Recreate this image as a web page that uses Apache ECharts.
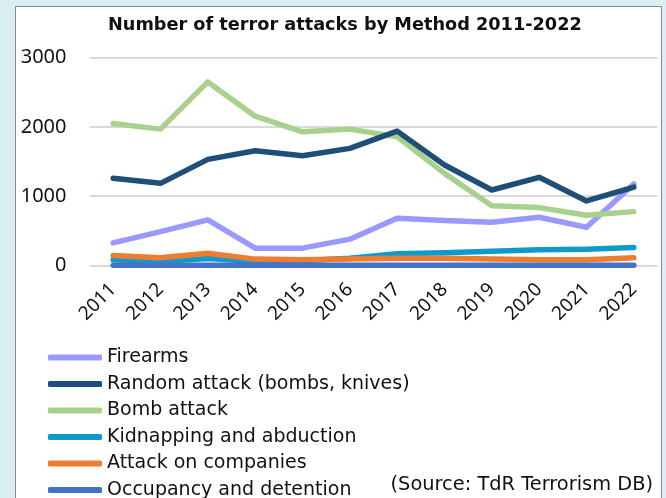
<!DOCTYPE html>
<html>
<head>
<meta charset="utf-8">
<script src="https://cdn.jsdelivr.net/npm/echarts@6/dist/echarts.min.js"></script>
<style>
  html, body { margin: 0; padding: 0; background: #dbeef4; }
  #box { position: absolute; left: 15px; top: 6px; width: 647px; height: 520px;
         background: #fff; border: 1.5px solid #8c8c8c; box-sizing: border-box; }
  #main { position: absolute; left: 0; top: 0; width: 666px; height: 498px; }
</style>
</head>
<body>
<div id="box"></div>
<div id="main"></div>
<script>
var years = ['2011', '2012', '2013', '2014', '2015', '2016', '2017', '2018', '2019', '2020', '2021', '2022'];
var firearms = [327, 489, 657, 250, 250, 380, 682, 648, 624, 696, 552, 1175];
var randomAttack = [1257, 1185, 1531, 1655, 1583, 1689, 1938, 1449, 1089, 1272, 931, 1132];
var bombAttack = [2049, 1967, 2648, 2154, 1928, 1967, 1856, 1329, 863, 835, 725, 777];
var kidnapping = [82, 58, 100, 60, 68, 105, 170, 185, 205, 226, 236, 259];
var companies = [144, 111, 178, 92, 82, 92, 106, 106, 92, 82, 82, 111];
var occupancy = [5, 5, 5, 5, 5, 5, 5, 5, 5, 5, 5, 5];
var yTicks = [0, 1000, 2000, 3000];

var chart = echarts.init(document.getElementById('main'));

function line(name, data, color, z) {
  return {
    name: name,
    type: 'line',
    data: data,
    symbol: 'none',
    z: z,
    lineStyle: { color: color, width: 5.5, cap: 'round', join: 'round' },
    itemStyle: { color: color }
  };
}

var option = {
  animation: false,
  title: {
    text: 'Number of terror attacks by Method 2011-2022',
    left: 108,
    top: 16,
    padding: 0,
    textStyle: { fontFamily: 'DejaVu Sans', fontWeight: 'bold', fontSize: 17.7, color: '#111' }
  },
  legend: {
    orient: 'vertical',
    left: 48,
    top: 347,
    height: 160,
    padding: 0,
    icon: 'roundRect',
    itemWidth: 54,
    itemHeight: 6,
    itemGap: 5.5,
    textStyle: { fontFamily: 'DejaVu Sans', fontSize: 19, color: '#111', lineHeight: 21, padding: [0, 0, 0, 0] }
  },
  graphic: [{
    type: 'text',
    right: 13,
    top: 475,
    style: { text: '(Source: TdR Terrorism DB)', fontFamily: 'DejaVu Sans', fontSize: 19.4, fill: '#111' }
  }],
  grid: { left: 89.5, right: 8.5, top: 57.5, bottom: 232.5, containLabel: false },
  xAxis: {
    type: 'category',
    data: years,
    boundaryGap: true,
    axisLine: { show: false },
    axisTick: { show: false },
    axisLabel: { rotate: 45, margin: 21, fontFamily: 'Noto Sans', fontSize: 19, color: '#111' }
  },
  yAxis: {
    type: 'value',
    min: yTicks[0],
    max: yTicks[yTicks.length - 1],
    interval: 1000,
    axisLine: { show: false },
    axisTick: { show: false },
    splitLine: { lineStyle: { color: '#d9d9d9', width: 2 } },
    axisLabel: { margin: 23, fontFamily: 'Noto Sans', fontSize: 20, color: '#111', formatter: function (v) { return String(v); } }
  },
  series: [
    line('Firearms', firearms, '#9999ff', 2),
    line('Random attack (bombs, knives)', randomAttack, '#1f4e79', 4),
    line('Bomb attack', bombAttack, '#a9d18e', 3),
    line('Kidnapping and abduction', kidnapping, '#0e9bcc', 5),
    line('Attack on companies', companies, '#ed7d31', 6),
    line('Occupancy and detention', occupancy, '#4472c4', 7)
  ]
};
chart.setOption(option);
</script>
</body>
</html>
